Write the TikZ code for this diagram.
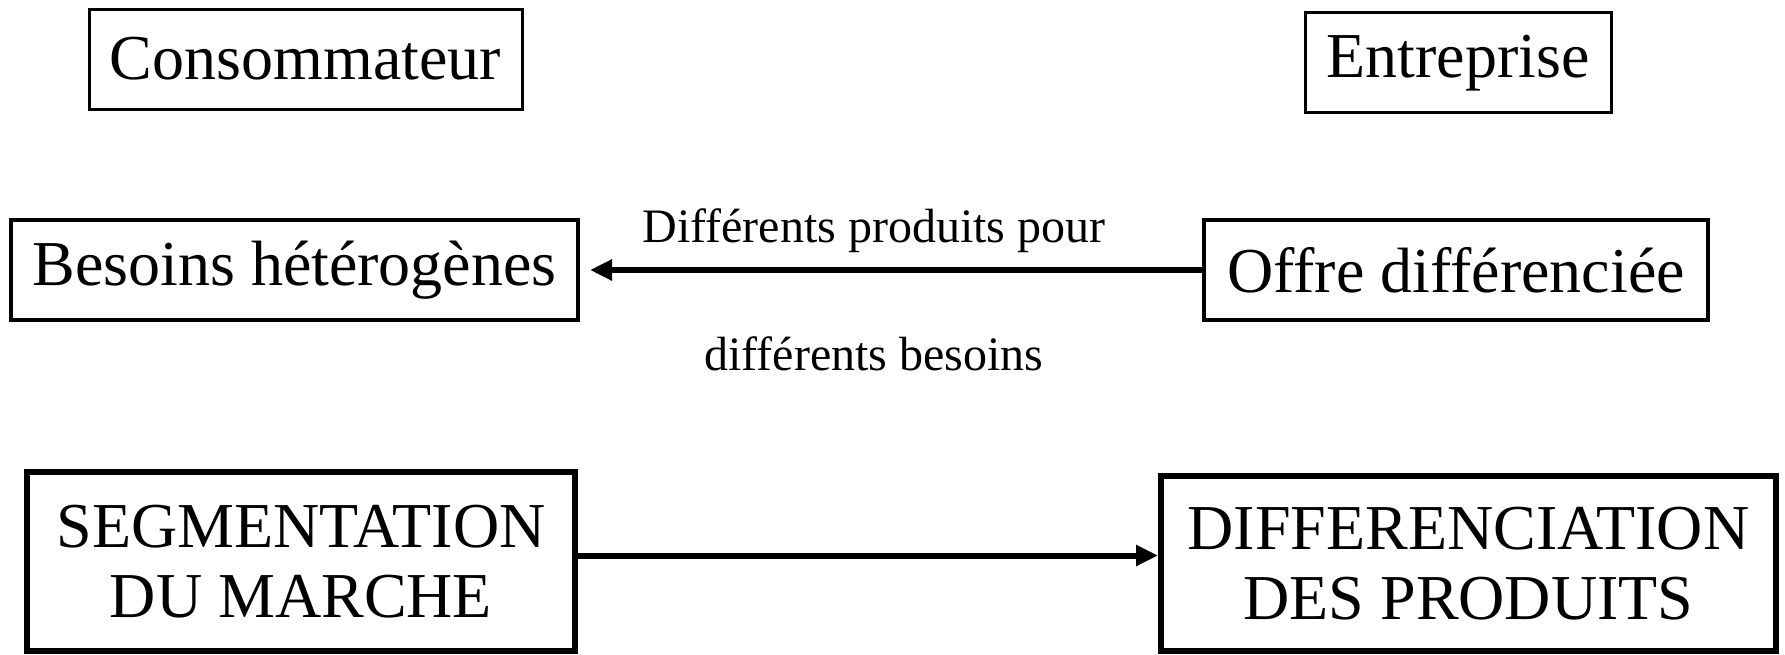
\documentclass[tikz,border=0pt]{standalone}
\usepackage{fontspec}
\setmainfont{Liberation Serif}
\usetikzlibrary{arrows.meta}
\begin{document}
\begin{tikzpicture}[x=0.5pt,y=-0.5pt,
  bigtxt/.style={font=\fontsize{32}{35}\selectfont, align=center, inner sep=0pt},
  topbox/.style={bigtxt, draw, line width=1.5pt},
  midbox/.style={bigtxt, draw, line width=2pt},
  botbox/.style={bigtxt, draw, line width=3pt},
  lbl/.style={font=\fontsize{24}{28}\selectfont, inner sep=0pt},
  arr/.style={line width=3pt, -{Triangle[length=11pt,width=10pt]}}]
\useasboundingbox (0,0) rectangle (1785,654);
\node[topbox, minimum width=216.5pt, minimum height=50pt] (cons) at (305.5,59) {Consommateur};
\node[topbox, minimum width=153pt, minimum height=50pt] (ent) at (1458,62.75) {\raisebox{-1.7pt}{Entreprise}};
\node[midbox, minimum width=283.5pt, minimum height=50pt] (bes) at (294.5,270) {Besoins hétérogènes};
\node[midbox, minimum width=252pt, minimum height=50pt] (off) at (1456,270) {Offre différenciée};
\node[botbox, minimum width=274pt, minimum height=89.5pt] (seg) at (301,561.5) {SEGMENTATION\\DU MARCHE};
\node[botbox, minimum width=307.5pt, minimum height=87.5pt] (dif) at (1468.5,563.5) {DIFFERENCIATION\\DES PRODUITS};
\node[lbl] (l1) at (874,231) {Différents produits pour};
\node[lbl] (l2) at (874,354) {différents besoins};
\draw[arr, shorten >=5pt] (off.west) -- (bes.east);
\draw[arr] ([yshift=3pt]seg.east) -- ([yshift=3pt]seg.east -| dif.west);
\end{tikzpicture}
\end{document}
